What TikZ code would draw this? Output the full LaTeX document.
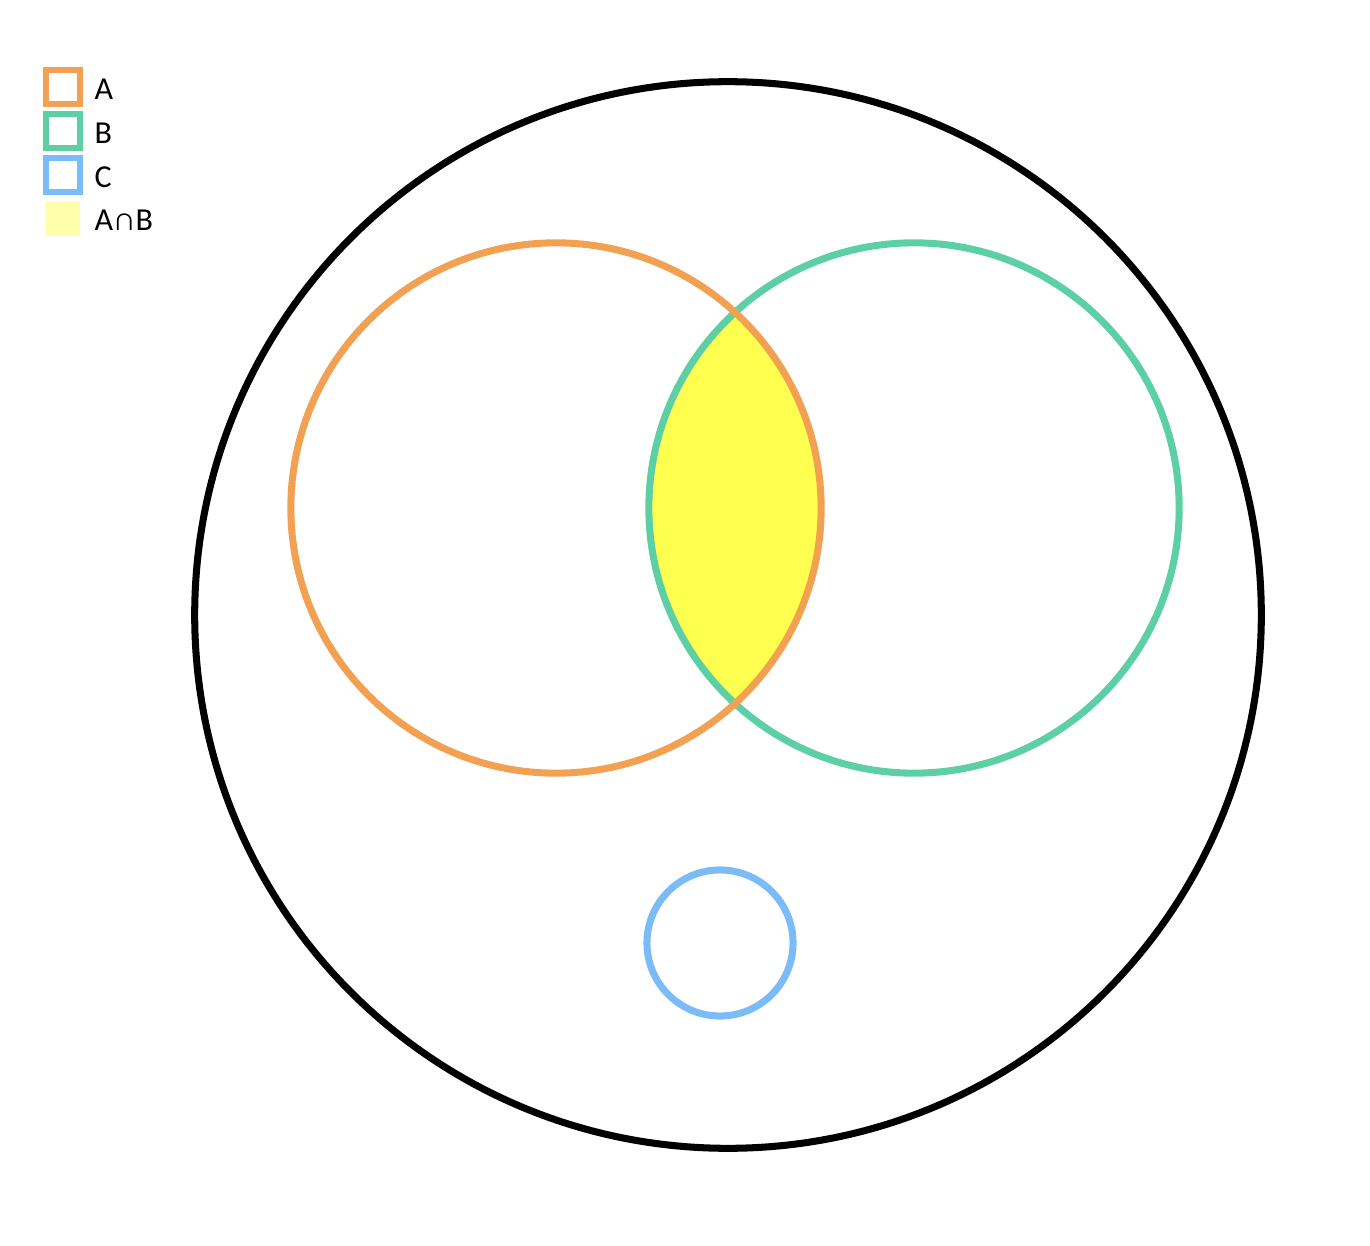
\documentclass[tikz,border=0pt]{standalone}
\usepackage{fontspec}
\setmainfont{Carlito}
\usepackage{xcolor}
\usepackage{tikz}
\usetikzlibrary{backgrounds}
\definecolor{setorange}{HTML}{F2A152}
\definecolor{setgreen}{HTML}{5DCFA5}
\definecolor{setblue}{HTML}{7BBCF8}
\definecolor{lensyellow}{HTML}{FFFF50}
\definecolor{keyyellow}{HTML}{FFFFAA}
\tikzset{
  ring/.style    ={circle, draw=#1, line width=2pt, inner sep=0pt, outer sep=0pt},
  keybox/.style  ={draw=#1, line width=1.9pt, minimum size=0.34cm, inner sep=0pt},
  keyfill/.style ={fill=#1, minimum size=0.34cm, inner sep=0pt},
  keylbl/.style  ={font=\fontsize{9.1pt}{11pt}\selectfont, anchor=base west, inner sep=0pt},
}
\begin{document}
\begin{tikzpicture}[x=0.01cm, y=-0.01cm]
\useasboundingbox (0,0) rectangle (1370,1246);
% universe and sets
\node[ring=black, minimum size=10.66cm] (univ) at (728,615) {};
\node[ring=setgreen, minimum size=5.3cm] (setB) at (914,508) {};
\node[ring=setorange, minimum size=5.3cm] (setA) at (556,508) {};
\node[ring=setblue, minimum size=1.46cm] (setC) at (720,943) {};
% A cap B
\begin{scope}[on background layer]
\clip (setA.center) circle (2.65cm);
\fill[lensyellow] (setB.center) circle (2.65cm);
\end{scope}
% key
\node[keybox=setorange] (keyA) at (63,87) {};
\node[keybox=setgreen] (keyB) at (63,131) {};
\node[keybox=setblue] (keyC) at (63,175) {};
\node[keyfill=keyyellow] (keyAB) at (63,219) {};
\node[keylbl] (lblA) at (94,100) {A};
\node[keylbl] (lblB) at (94,144) {B};
\node[keylbl] (lblC) at (94,188) {C};
\node[keylbl] (lblAB) at (94,231) {A∩B};
\end{tikzpicture}
\end{document}
